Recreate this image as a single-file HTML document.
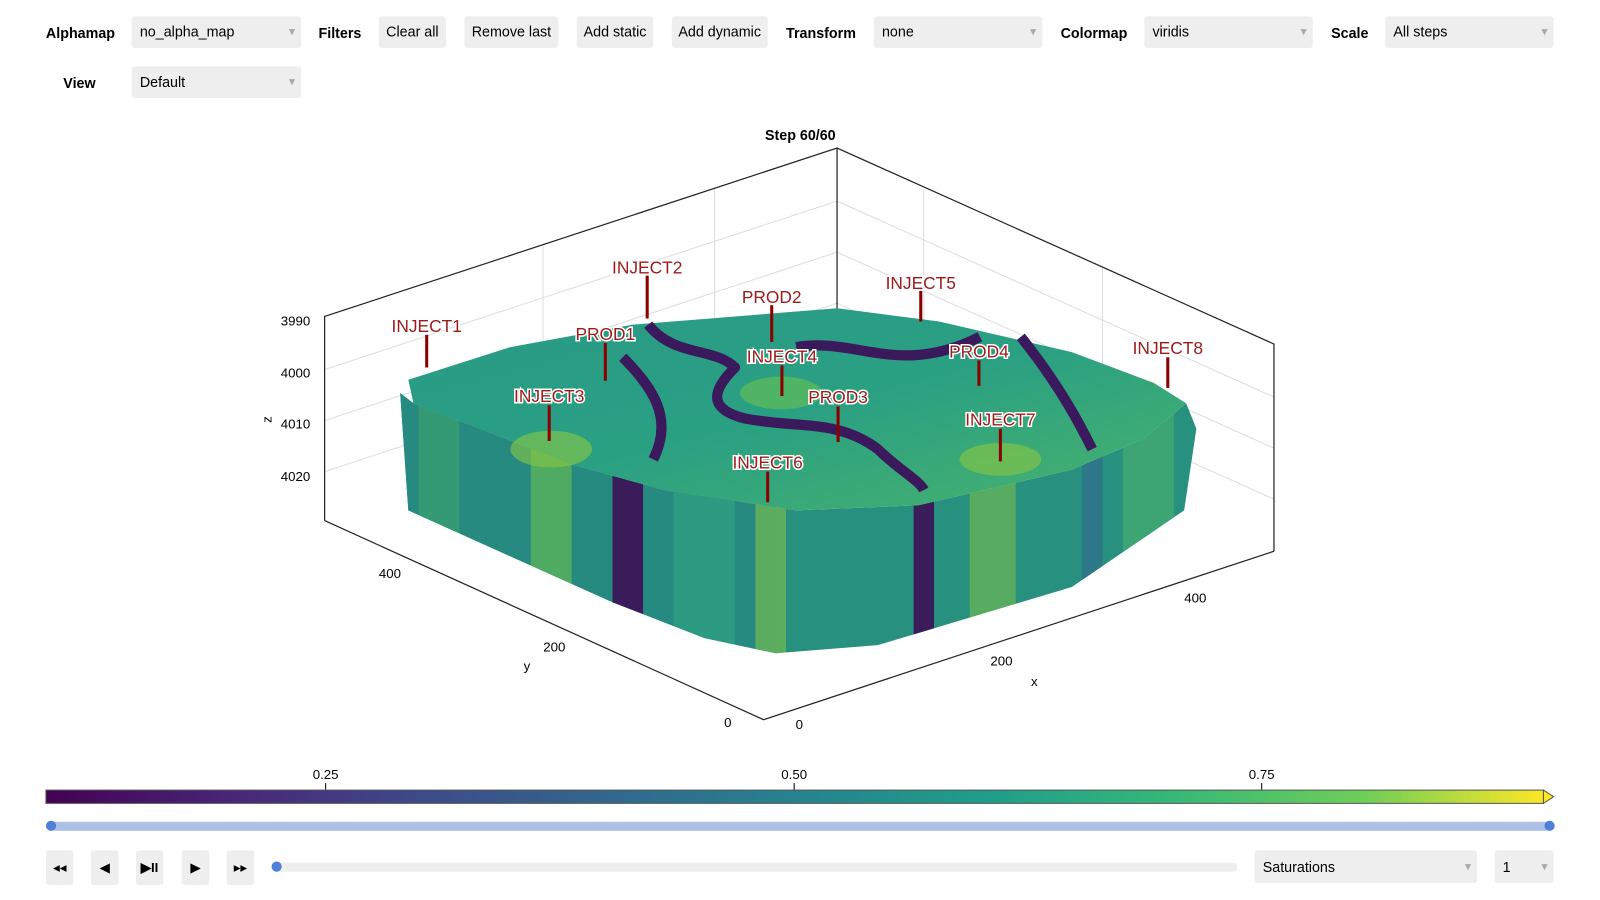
<!DOCTYPE html>
<html><head><style>
body{margin:0;width:1600px;height:900px;background:#fff;font-family:"Liberation Sans",sans-serif;overflow:hidden}
#w{position:absolute;left:0;top:0;width:1560px;height:878px;transform:scale(1.0208);transform-origin:0 0}
.l{position:absolute;font-weight:bold;font-size:14px;color:#000}
.d{position:absolute;background:#eee;border-radius:3px;font-size:14px;height:31px;line-height:31px;padding-left:8px;box-sizing:border-box}
.d:after{content:"▾";position:absolute;right:6px;color:#aaa;font-size:12px}
.b{position:absolute;background:#eee;border-radius:3px;font-size:14px;height:31px;line-height:31px;text-align:center}
.p{position:absolute;background:#eee;border-radius:3px;width:27px;height:34px;top:833px;text-align:center;line-height:34px;font-size:13px}
</style></head><body><div id="w">
<div class="l" style="left:45px;top:24px">Alphamap</div>
<div class="d" style="left:129px;top:16px;width:166px">no_alpha_map</div>
<div class="l" style="left:312px;top:24px">Filters</div>
<div class="b" style="left:371px;top:16px;width:66px">Clear all</div>
<div class="b" style="left:455px;top:16px;width:92px">Remove last</div>
<div class="b" style="left:565px;top:16px;width:75px">Add static</div>
<div class="b" style="left:658px;top:16px;width:94px">Add dynamic</div>
<div class="l" style="left:770px;top:24px">Transform</div>
<div class="d" style="left:856px;top:16px;width:165px">none</div>
<div class="l" style="left:1039px;top:24px">Colormap</div>
<div class="d" style="left:1121px;top:16px;width:165px">viridis</div>
<div class="l" style="left:1304px;top:24px">Scale</div>
<div class="d" style="left:1357px;top:16px;width:165px">All steps</div>
<div class="l" style="left:62px;top:73px">View</div>
<div class="d" style="left:129px;top:65px;width:166px">Default</div>

<svg width="1560" height="878" style="position:absolute;left:0;top:0">
<defs>
<linearGradient id="vir" x1="0" x2="1">
<stop offset="0" stop-color="#440154"/><stop offset=".13" stop-color="#482878"/><stop offset=".25" stop-color="#3e4a89"/><stop offset=".38" stop-color="#31688e"/><stop offset=".5" stop-color="#26828e"/><stop offset=".63" stop-color="#1f9e89"/><stop offset=".75" stop-color="#35b779"/><stop offset=".88" stop-color="#6ece58"/><stop offset="1" stop-color="#fde725"/>
</linearGradient>
<linearGradient id="top" x1="0" y1="0" x2="1" y2="1">
<stop offset="0" stop-color="#2a9a86"/><stop offset=".5" stop-color="#2aa083"/><stop offset="1" stop-color="#4bb36c"/>
</linearGradient>
<clipPath id="sc"><polygon id="sp" points="392,385 405,395 470,420 560,455 650,480 780,500 900,495 1050,460 1120,430 1162,395 1172,420 1160,500 1050,575 860,632 760,640 690,625 600,590 400,500"/></clipPath>
</defs>
<text x="784" y="137" font-size="14" font-weight="bold" text-anchor="middle">Step 60/60</text>
<g stroke="#ddd" stroke-width="1" fill="none">
<line x1="532" y1="240" x2="532" y2="440"/><line x1="700" y1="185" x2="700" y2="385"/>
<line x1="905" y1="185" x2="905" y2="385"/><line x1="1080" y1="260" x2="1080" y2="460"/>
<line x1="318" y1="362" x2="820" y2="197"/><line x1="318" y1="412" x2="820" y2="247"/><line x1="318" y1="462" x2="820" y2="297"/>
<line x1="820" y1="197" x2="1248" y2="389"/><line x1="820" y1="247" x2="1248" y2="439"/><line x1="820" y1="297" x2="1248" y2="489"/>
</g>
<g stroke="#222" stroke-width="1.2" fill="none">
<polyline points="318,510 318,310 820,145 1248,337 1248,540"/>
<line x1="820" y1="145" x2="820" y2="345"/>
<polyline points="318,510 748,705 1248,540"/>
</g>
<use href="#sp" fill="#28907f"/>
<g clip-path="url(#sc)">
<rect x="380" y="380" width="380" height="270" fill="#268a80"/>
<rect x="410" y="380" width="40" height="270" fill="#3aa070" opacity=".7"/>
<rect x="520" y="380" width="40" height="270" fill="#6bbf4e" opacity=".6"/>
<rect x="600" y="380" width="30" height="270" fill="#3b1c5a"/>
<rect x="660" y="380" width="60" height="270" fill="#2d9b82"/>
<rect x="740" y="380" width="30" height="270" fill="#7fc34a" opacity=".6"/>
<rect x="895" y="380" width="20" height="270" fill="#3b1c5a"/>
<rect x="950" y="380" width="45" height="270" fill="#7fc34a" opacity=".55"/>
<rect x="1060" y="380" width="20" height="270" fill="#31688e" opacity=".6"/>
<rect x="1100" y="380" width="50" height="270" fill="#4bb36c" opacity=".6"/>
</g>
<polygon points="400,372 500,340 620,318 820,302 920,315 1050,345 1130,375 1162,395 1120,430 1050,460 900,495 780,500 650,480 560,455 470,420 405,395" fill="url(#top)"/>
<g fill="none" stroke="#3a1a5c" stroke-width="10" stroke-linejoin="round">
<path d="M635,318 C660,350 700,340 720,360 C700,380 690,400 730,410 C780,420 820,410 860,440 C880,460 900,470 905,480"/>
<path d="M780,340 C840,330 880,370 960,330"/>
<path d="M1000,330 C1040,380 1060,420 1070,440"/>
<path d="M610,350 C640,380 660,410 640,450"/>
</g>
<ellipse cx="765" cy="385" rx="40" ry="16" fill="#5fbe57" opacity=".7"/>
<ellipse cx="540" cy="440" rx="40" ry="18" fill="#8ac843" opacity=".6"/>
<ellipse cx="980" cy="450" rx="40" ry="16" fill="#8ac843" opacity=".6"/>
<g stroke="#8b0000" stroke-width="3">
<line x1="418" y1="328" x2="418" y2="360"/><line x1="634" y1="270" x2="634" y2="312"/><line x1="756" y1="299" x2="756" y2="335"/>
<line x1="902" y1="285" x2="902" y2="315"/><line x1="593" y1="336" x2="593" y2="373"/><line x1="766" y1="358" x2="766" y2="388"/>
<line x1="959" y1="353" x2="959" y2="378"/><line x1="1144" y1="350" x2="1144" y2="380"/><line x1="538" y1="397" x2="538" y2="432"/>
<line x1="821" y1="398" x2="821" y2="433"/><line x1="980" y1="420" x2="980" y2="452"/><line x1="752" y1="462" x2="752" y2="492"/>
</g>
<g font-size="17" fill="#9b1b1b" text-anchor="middle" stroke="#fff" stroke-width="3" paint-order="stroke">
<text x="418" y="325">INJECT1</text><text x="634" y="268">INJECT2</text><text x="756" y="297">PROD2</text><text x="902" y="283">INJECT5</text>
<text x="593" y="333">PROD1</text><text x="766" y="355">INJECT4</text><text x="959" y="350">PROD4</text><text x="1144" y="347">INJECT8</text>
<text x="538" y="394">INJECT3</text><text x="821" y="395">PROD3</text><text x="980" y="417">INJECT7</text><text x="752" y="459">INJECT6</text>
</g>
<g font-size="13" fill="#000">
<text x="304" y="319" text-anchor="end">3990</text><text x="304" y="370" text-anchor="end">4000</text>
<text x="304" y="420" text-anchor="end">4010</text><text x="304" y="471" text-anchor="end">4020</text>
<text x="266" y="411" transform="rotate(-90 266 411)" text-anchor="middle">z</text>
<text x="382" y="566" text-anchor="middle">400</text><text x="543" y="638" text-anchor="middle">200</text><text x="713" y="712" text-anchor="middle">0</text>
<text x="513" y="657">y</text>
<text x="783" y="714" text-anchor="middle">0</text><text x="981" y="652" text-anchor="middle">200</text><text x="1171" y="590" text-anchor="middle">400</text>
<text x="1010" y="672">x</text>
<text x="319" y="763" text-anchor="middle">0.25</text><text x="778" y="763" text-anchor="middle">0.50</text><text x="1236" y="763" text-anchor="middle">0.75</text>
</g>
<g stroke="#000"><line x1="319" y1="767" x2="319" y2="774"/><line x1="778" y1="767" x2="778" y2="774"/><line x1="1236" y1="767" x2="1236" y2="774"/></g>
<rect x="45" y="774" width="1467" height="13" fill="url(#vir)" stroke="#555"/>
<polygon points="1512,774 1522,780.5 1512,787" fill="#fde725" stroke="#555"/>
<rect x="50" y="805" width="1468" height="9" rx="4" fill="#aec0e6"/>
<circle cx="50" cy="809" r="5" fill="#4f7fd8"/><circle cx="1518" cy="809" r="5" fill="#4f7fd8"/>
<rect x="270" y="845" width="942" height="9" rx="4" fill="#eee"/>
<circle cx="271" cy="849" r="5" fill="#4f7fd8"/>
</svg>
<div class="p" style="left:45px">◂◂</div>
<div class="p" style="left:89px">◀</div>
<div class="p" style="left:133px;font-weight:bold">▶II</div>
<div class="p" style="left:178px">▶</div>
<div class="p" style="left:222px">▸▸</div>
<div class="d" style="left:1229px;top:833px;width:218px;height:32px;line-height:32px">Saturations</div>
<div class="d" style="left:1464px;top:833px;width:58px;height:32px;line-height:32px">1</div>
</div></body></html>
